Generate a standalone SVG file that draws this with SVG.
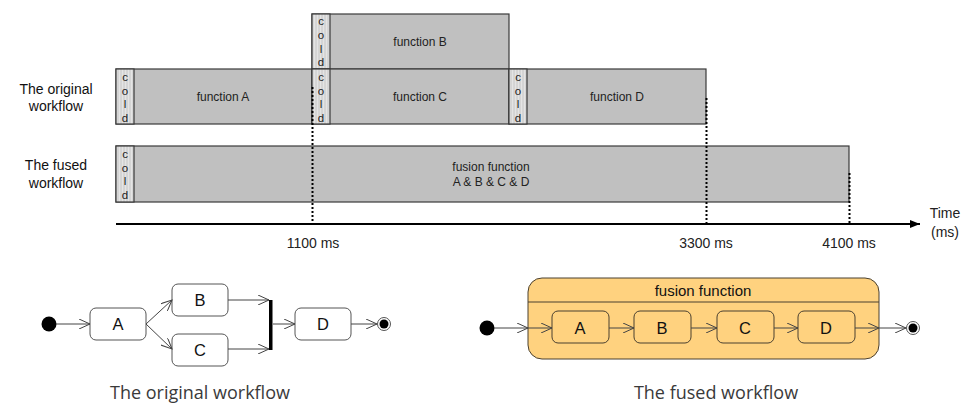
<svg xmlns="http://www.w3.org/2000/svg" width="968" height="405" viewBox="0 0 968 405">
  <style>
    .lbl { font-family: "Liberation Sans", Arial, sans-serif; font-size: 12px; fill: #222; text-anchor: middle; }
    .ax { font-family: "Liberation Sans", Arial, sans-serif; font-size: 14px; fill: #222; text-anchor: middle; }
    .cold { font-family: "Liberation Sans", Arial, sans-serif; font-size: 11.5px; fill: #222; text-anchor: middle; }
    .side { font-family: "Liberation Sans", Arial, sans-serif; font-size: 14px; fill: #111; text-anchor: middle; }
    .fn { fill: #c0c0c0; stroke: #3a3a3a; stroke-width: 1.2; }
    .cs { fill: url(#hatch); stroke: #3a3a3a; stroke-width: 1.2; }
    .dot { stroke: #000; stroke-width: 2; stroke-dasharray: 2 2; fill: none; }
    .state { fill: #fff; stroke: #555; stroke-width: 1; }
    .ostate { fill: #ffd27f; stroke: #4a4030; stroke-width: 1; }
    .nodeTxt { font-family: "Liberation Sans", Arial, sans-serif; font-size: 16.5px; fill: #111; text-anchor: middle; }
    .title { font-family: "Liberation Sans", Arial, sans-serif; font-size: 15px; fill: #111; text-anchor: middle; }
    .flow { stroke: #444; stroke-width: 1; fill: none; marker-end: url(#open); }
    .cap { font-family: "Open Sans", "Noto Sans", sans-serif; font-size: 18px; fill: #3a3a3a; text-anchor: middle; }
  </style>
  <defs>
    <pattern id="hatch" width="3" height="6" patternUnits="userSpaceOnUse">
      <rect width="3" height="6" fill="#e4e4e4"/>
      <line x1="1" y1="0" x2="1" y2="6" stroke="#bcbcbc" stroke-width="0.8"/>
    </pattern>
    <marker id="open" viewBox="0 0 12 10" refX="11" refY="5" markerWidth="12" markerHeight="10" markerUnits="userSpaceOnUse" orient="auto">
      <path d="M0,0 L11,5 L0,10" fill="none" stroke="#444" stroke-width="1"/>
    </marker>
    <marker id="solid" viewBox="0 0 10 8" refX="10" refY="4" markerWidth="10" markerHeight="8" markerUnits="userSpaceOnUse" orient="auto">
      <path d="M0,0 L10,4 L0,8 Z" fill="#000"/>
    </marker>
  </defs>

  <!-- timeline: side labels -->
  <text class="side" x="56" y="94">The original</text>
  <text class="side" x="56" y="111">workflow</text>
  <text class="side" x="56" y="170">The fused</text>
  <text class="side" x="56" y="188">workflow</text>

  <!-- function B (parallel branch) -->
  <g id="fnB">
    <rect class="fn" x="312" y="14" width="197" height="55"/>
    <rect class="cs" x="312" y="14" width="18" height="55"/>
    <text class="cold" x="321" y="25">c</text>
    <text class="cold" x="321" y="39">o</text>
    <text class="cold" x="321" y="53">l</text>
    <text class="cold" x="321" y="66">d</text>
    <text class="lbl" x="420" y="46">function B</text>
  </g>

  <!-- function A -->
  <g id="fnA">
    <rect class="fn" x="116" y="69" width="196" height="55"/>
    <rect class="cs" x="116" y="69" width="18" height="55"/>
    <text class="cold" x="125" y="81">c</text>
    <text class="cold" x="125" y="95">o</text>
    <text class="cold" x="125" y="108">l</text>
    <text class="cold" x="125" y="122">d</text>
    <text class="lbl" x="223" y="101">function A</text>
  </g>

  <!-- function C -->
  <g id="fnC">
    <rect class="fn" x="312" y="69" width="197" height="55"/>
    <rect class="cs" x="312" y="69" width="18" height="55"/>
    <text class="cold" x="321" y="81">c</text>
    <text class="cold" x="321" y="95">o</text>
    <text class="cold" x="321" y="108">l</text>
    <text class="cold" x="321" y="122">d</text>
    <text class="lbl" x="420" y="101">function C</text>
  </g>

  <!-- function D -->
  <g id="fnD">
    <rect class="fn" x="509" y="69" width="197" height="55"/>
    <rect class="cs" x="509" y="69" width="18" height="55"/>
    <text class="cold" x="518" y="81">c</text>
    <text class="cold" x="518" y="95">o</text>
    <text class="cold" x="518" y="108">l</text>
    <text class="cold" x="518" y="122">d</text>
    <text class="lbl" x="617" y="101">function D</text>
  </g>

  <!-- fused function -->
  <g id="fnFused">
    <rect class="fn" x="116" y="146" width="733" height="56"/>
    <rect class="cs" x="116" y="146" width="18" height="56"/>
    <text class="cold" x="125" y="158">c</text>
    <text class="cold" x="125" y="172">o</text>
    <text class="cold" x="125" y="185">l</text>
    <text class="cold" x="125" y="199">d</text>
    <text class="lbl" x="491" y="171">fusion function</text>
    <text class="lbl" x="491" y="186">A &amp; B &amp; C &amp; D</text>
  </g>

  <!-- time axis and markers -->
  <g id="axis">
    <line x1="116" y1="224" x2="920" y2="224" stroke="#000" stroke-width="2" marker-end="url(#solid)"/>
    <line class="dot" x1="312.5" y1="87" x2="312.5" y2="223"/>
    <line class="dot" x1="706.5" y1="98" x2="706.5" y2="223"/>
    <line class="dot" x1="849.5" y1="173" x2="849.5" y2="223"/>
    <text class="ax" x="313" y="248">1100 ms</text>
    <text class="ax" x="706" y="248">3300 ms</text>
    <text class="ax" x="849" y="248">4100 ms</text>
    <text class="ax" x="945" y="218">Time</text>
    <text class="ax" x="945" y="237">(ms)</text>
  </g>

  <!-- original workflow state diagram -->
  <g id="o-start"><circle cx="49" cy="324" r="7.5" fill="#000"/></g>
  <g id="o-A"><rect class="state" x="90" y="308" width="56" height="32" rx="6"/><text class="nodeTxt" x="118" y="330">A</text></g>
  <g id="o-B"><rect class="state" x="172" y="284" width="56" height="32" rx="6"/><text class="nodeTxt" x="200" y="306">B</text></g>
  <g id="o-C"><rect class="state" x="172" y="334" width="56" height="32" rx="6"/><text class="nodeTxt" x="200" y="356">C</text></g>
  <g id="o-join"><rect x="269" y="300" width="3.5" height="50" fill="#000"/></g>
  <g id="o-D"><rect class="state" x="295" y="308" width="56" height="32" rx="6"/><text class="nodeTxt" x="323" y="330">D</text></g>
  <g id="o-end"><circle cx="384" cy="324" r="6.5" fill="#fff" stroke="#555" stroke-width="1"/><circle cx="384" cy="324" r="4.5" fill="#000"/></g>

  <!-- fused workflow state diagram -->
  <g id="f-start"><circle cx="487" cy="328" r="7.5" fill="#000"/></g>
  <g id="f-container">
    <rect class="ostate" x="528" y="278" width="351" height="81" rx="14"/>
    <line x1="528" y1="302" x2="879" y2="302" stroke="#4a4030" stroke-width="1"/>
    <text class="title" x="703" y="296">fusion function</text>
  </g>
  <g id="f-A"><rect class="ostate" x="552" y="311" width="57" height="32" rx="6"/><text class="nodeTxt" x="580" y="334">A</text></g>
  <g id="f-B"><rect class="ostate" x="634" y="311" width="57" height="32" rx="6"/><text class="nodeTxt" x="662" y="334">B</text></g>
  <g id="f-C"><rect class="ostate" x="717" y="311" width="57" height="32" rx="6"/><text class="nodeTxt" x="745" y="334">C</text></g>
  <g id="f-D"><rect class="ostate" x="798" y="311" width="57" height="32" rx="6"/><text class="nodeTxt" x="826" y="334">D</text></g>
  <g id="f-end"><circle cx="913" cy="328" r="6.5" fill="#fff" stroke="#555" stroke-width="1"/><circle cx="913" cy="328" r="4.5" fill="#000"/></g>

  <!-- connectors -->
  <g id="connectors">
    <line class="flow" x1="56" y1="324" x2="90" y2="324"/>
    <line class="flow" x1="146" y1="324" x2="172" y2="300"/>
    <line class="flow" x1="146" y1="324" x2="172" y2="349"/>
    <line class="flow" x1="228" y1="300" x2="269" y2="300"/>
    <line class="flow" x1="228" y1="349" x2="269" y2="349"/>
    <line class="flow" x1="273" y1="324" x2="295" y2="324"/>
    <line class="flow" x1="351" y1="324" x2="377" y2="324"/>

    <line class="flow" x1="494" y1="328" x2="528" y2="328"/>
    <line class="flow" x1="528" y1="328" x2="552" y2="328"/>
    <line class="flow" x1="609" y1="328" x2="634" y2="328"/>
    <line class="flow" x1="691" y1="328" x2="717" y2="328"/>
    <line class="flow" x1="774" y1="328" x2="798" y2="328"/>
    <line class="flow" x1="855" y1="328" x2="879" y2="328"/>
    <line class="flow" x1="879" y1="328" x2="906" y2="328"/>
  </g>

  <!-- captions -->
  <text class="cap" x="200" y="399">The original workflow</text>
  <text class="cap" x="716" y="399">The fused workflow</text>
</svg>
